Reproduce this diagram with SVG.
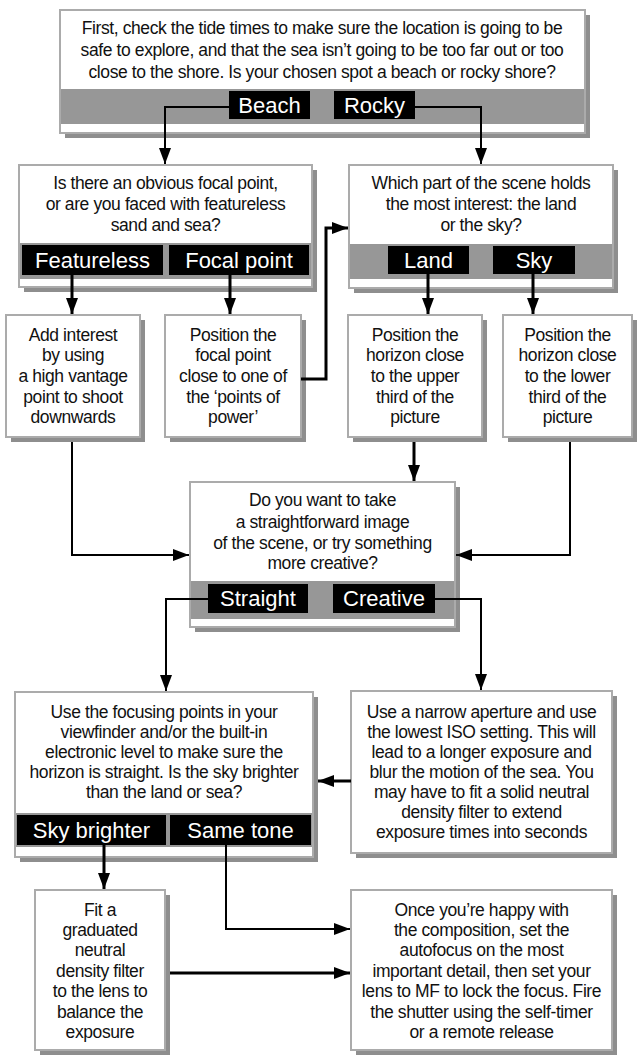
<svg xmlns="http://www.w3.org/2000/svg" width="638" height="1055" viewBox="0 0 638 1055">
  <defs>
    <style>
      .shadow { fill: #8e8e8e; }
      .box { fill: #ffffff; stroke: #ababab; stroke-width: 2; }
      .band { fill: #979797; }
      .lab { fill: #000000; }
      .t { font-family: "Liberation Sans", Arial, sans-serif; font-size: 17.5px; letter-spacing: -0.4px; text-anchor: middle; fill: #111111; }
      .lt { font-family: "Liberation Sans", Arial, sans-serif; font-size: 22px; text-anchor: middle; fill: #ffffff; }
      .wire { fill: none; stroke: #000000; stroke-width: 2; }
      .wire3 { fill: none; stroke: #000000; stroke-width: 3; }
    </style>
    <marker id="arrow" viewBox="0 0 16 12" refX="16" refY="6" markerWidth="16" markerHeight="12" markerUnits="userSpaceOnUse" orient="auto">
      <path d="M0,0 L16,6 L0,12 Z" fill="#000000"/>
    </marker>
  </defs>

  <rect width="638" height="1055" fill="#ffffff"/>

  <!-- Start: tide check -->
  <g id="start">
    <rect class="shadow" x="65" y="15" width="525" height="123"/>
    <rect class="box" x="60" y="10" width="525" height="123"/>
    <rect class="band" x="61" y="89" width="523" height="35"/>
    <text class="t" x="322" y="34">First, check the tide times to make sure the location is going to be</text>
    <text class="t" x="322" y="56">safe to explore, and that the sea isn’t going to be too far out or too</text>
    <text class="t" x="322" y="78">close to the shore. Is your chosen spot a beach or rocky shore?</text>
    <rect class="lab" x="229" y="91" width="81" height="28"/>
    <text class="lt" x="269.5" y="113">Beach</text>
    <rect class="lab" x="334" y="91" width="81" height="28"/>
    <text class="lt" x="374.5" y="113">Rocky</text>
  </g>

  <!-- Beach: focal point question -->
  <g id="beach-question">
    <rect class="shadow" x="24" y="170" width="293" height="122"/>
    <rect class="box" x="19" y="165" width="293" height="122"/>
    <rect class="band" x="20" y="243" width="291" height="36"/>
    <text class="t" x="165.5" y="189">Is there an obvious focal point,</text>
    <text class="t" x="165.5" y="210">or are you faced with featureless</text>
    <text class="t" x="165.5" y="231">sand and sea?</text>
    <rect class="lab" x="22" y="245" width="141" height="30"/>
    <text class="lt" x="92.5" y="268">Featureless</text>
    <rect class="lab" x="169" y="245" width="140" height="30"/>
    <text class="lt" x="239" y="268">Focal point</text>
  </g>

  <!-- Rocky: land or sky question -->
  <g id="rocky-question">
    <rect class="shadow" x="354" y="170" width="264" height="123"/>
    <rect class="box" x="349" y="165" width="264" height="123"/>
    <rect class="band" x="350" y="244" width="262" height="35"/>
    <text class="t" x="481" y="189">Which part of the scene holds</text>
    <text class="t" x="481" y="210">the most interest: the land</text>
    <text class="t" x="481" y="231">or the sky?</text>
    <rect class="lab" x="388" y="246" width="81" height="28"/>
    <text class="lt" x="428.5" y="268">Land</text>
    <rect class="lab" x="493" y="246" width="82" height="28"/>
    <text class="lt" x="534" y="268">Sky</text>
  </g>

  <!-- Featureless answer -->
  <g id="high-vantage">
    <rect class="shadow" x="11" y="320" width="134" height="122"/>
    <rect class="box" x="6" y="315" width="134" height="122"/>
    <text class="t" x="73" y="341">Add interest</text>
    <text class="t" x="73" y="361">by using</text>
    <text class="t" x="73" y="382">a high vantage</text>
    <text class="t" x="73" y="403">point to shoot</text>
    <text class="t" x="73" y="423">downwards</text>
  </g>

  <!-- Focal point answer -->
  <g id="points-of-power">
    <rect class="shadow" x="170" y="320" width="136" height="122"/>
    <rect class="box" x="165" y="315" width="136" height="122"/>
    <text class="t" x="233" y="341">Position the</text>
    <text class="t" x="233" y="361">focal point</text>
    <text class="t" x="233" y="382">close to one of</text>
    <text class="t" x="233" y="403">the ‘points of</text>
    <text class="t" x="233" y="423">power’</text>
  </g>

  <!-- Land answer -->
  <g id="upper-third">
    <rect class="shadow" x="353" y="320" width="134" height="122"/>
    <rect class="box" x="348" y="315" width="134" height="122"/>
    <text class="t" x="415" y="341">Position the</text>
    <text class="t" x="415" y="361">horizon close</text>
    <text class="t" x="415" y="382">to the upper</text>
    <text class="t" x="415" y="403">third of the</text>
    <text class="t" x="415" y="423">picture</text>
  </g>

  <!-- Sky answer -->
  <g id="lower-third">
    <rect class="shadow" x="508" y="320" width="129" height="122"/>
    <rect class="box" x="503" y="315" width="129" height="122"/>
    <text class="t" x="567.5" y="341">Position the</text>
    <text class="t" x="567.5" y="361">horizon close</text>
    <text class="t" x="567.5" y="382">to the lower</text>
    <text class="t" x="567.5" y="403">third of the</text>
    <text class="t" x="567.5" y="423">picture</text>
  </g>

  <!-- Straight or creative question -->
  <g id="style-question">
    <rect class="shadow" x="195" y="487" width="265" height="145"/>
    <rect class="box" x="190" y="482" width="265" height="145"/>
    <rect class="band" x="191" y="581" width="263" height="38"/>
    <text class="t" x="322.5" y="506">Do you want to take</text>
    <text class="t" x="322.5" y="528">a straightforward image</text>
    <text class="t" x="322.5" y="549">of the scene, or try something</text>
    <text class="t" x="322.5" y="569">more creative?</text>
    <rect class="lab" x="208" y="584" width="100" height="29"/>
    <text class="lt" x="258" y="606">Straight</text>
    <rect class="lab" x="333" y="584" width="102" height="29"/>
    <text class="lt" x="384" y="606">Creative</text>
  </g>

  <!-- Straight: level horizon question -->
  <g id="horizon-question">
    <rect class="shadow" x="20" y="697" width="298" height="165"/>
    <rect class="box" x="15" y="692" width="298" height="165"/>
    <rect class="band" x="16" y="813" width="296" height="34"/>
    <text class="t" x="164" y="718">Use the focusing points in your</text>
    <text class="t" x="164" y="738">viewfinder and/or the built-in</text>
    <text class="t" x="164" y="758">electronic level to make sure the</text>
    <text class="t" x="164" y="778">horizon is straight. Is the sky brighter</text>
    <text class="t" x="164" y="798">than the land or sea?</text>
    <rect class="lab" x="17" y="815" width="149" height="30"/>
    <text class="lt" x="91.5" y="838">Sky brighter</text>
    <rect class="lab" x="170" y="815" width="141" height="30"/>
    <text class="lt" x="240.5" y="838">Same tone</text>
  </g>

  <!-- Creative answer -->
  <g id="long-exposure">
    <rect class="shadow" x="356" y="696" width="261" height="162"/>
    <rect class="box" x="351" y="691" width="261" height="162"/>
    <text class="t" x="481.5" y="718">Use a narrow aperture and use</text>
    <text class="t" x="481.5" y="738">the lowest ISO setting. This will</text>
    <text class="t" x="481.5" y="758">lead to a longer exposure and</text>
    <text class="t" x="481.5" y="778">blur the motion of the sea. You</text>
    <text class="t" x="481.5" y="798">may have to fit a solid neutral</text>
    <text class="t" x="481.5" y="818">density filter to extend</text>
    <text class="t" x="481.5" y="838">exposure times into seconds</text>
  </g>

  <!-- Sky brighter answer -->
  <g id="grad-filter">
    <rect class="shadow" x="40" y="895" width="130" height="160"/>
    <rect class="box" x="35" y="890" width="130" height="160"/>
    <text class="t" x="100" y="916">Fit a</text>
    <text class="t" x="100" y="936">graduated</text>
    <text class="t" x="100" y="956">neutral</text>
    <text class="t" x="100" y="977">density filter</text>
    <text class="t" x="100" y="997">to the lens to</text>
    <text class="t" x="100" y="1018">balance the</text>
    <text class="t" x="100" y="1038">exposure</text>
  </g>

  <!-- Final step -->
  <g id="lock-focus">
    <rect class="shadow" x="356" y="895" width="261" height="160"/>
    <rect class="box" x="351" y="890" width="261" height="160"/>
    <text class="t" x="481.5" y="916">Once you’re happy with</text>
    <text class="t" x="481.5" y="936">the composition, set the</text>
    <text class="t" x="481.5" y="956">autofocus on the most</text>
    <text class="t" x="481.5" y="977">important detail, then set your</text>
    <text class="t" x="481.5" y="997">lens to MF to lock the focus. Fire</text>
    <text class="t" x="481.5" y="1018">the shutter using the self-timer</text>
    <text class="t" x="481.5" y="1038">or a remote release</text>
  </g>

  <!-- Connectors -->
  <g id="connectors">
    <path class="wire" d="M229,107 H165 V164" marker-end="url(#arrow)"/>
    <path class="wire" d="M415,107 H481 V164" marker-end="url(#arrow)"/>
    <path class="wire3" d="M72,275 V314" marker-end="url(#arrow)"/>
    <path class="wire3" d="M230,275 V314" marker-end="url(#arrow)"/>
    <path class="wire3" d="M301,379 H326 V228 H348" marker-end="url(#arrow)"/>
    <path class="wire3" d="M428,274 V314" marker-end="url(#arrow)"/>
    <path class="wire3" d="M533,274 V314" marker-end="url(#arrow)"/>
    <path class="wire3" d="M414,442 V481" marker-end="url(#arrow)"/>
    <path class="wire" d="M72,442 V555 H189" marker-end="url(#arrow)"/>
    <path class="wire" d="M570,442 V555 H456" marker-end="url(#arrow)"/>
    <path class="wire" d="M208,599 H166 V691" marker-end="url(#arrow)"/>
    <path class="wire" d="M435,599 H481 V690" marker-end="url(#arrow)"/>
    <path class="wire3" d="M351,781 H318" marker-end="url(#arrow)"/>
    <path class="wire3" d="M104,845 V889" marker-end="url(#arrow)"/>
    <path class="wire" d="M226,845 V929 H350" marker-end="url(#arrow)"/>
    <path class="wire3" d="M170,973 H350" marker-end="url(#arrow)"/>
  </g>
</svg>
